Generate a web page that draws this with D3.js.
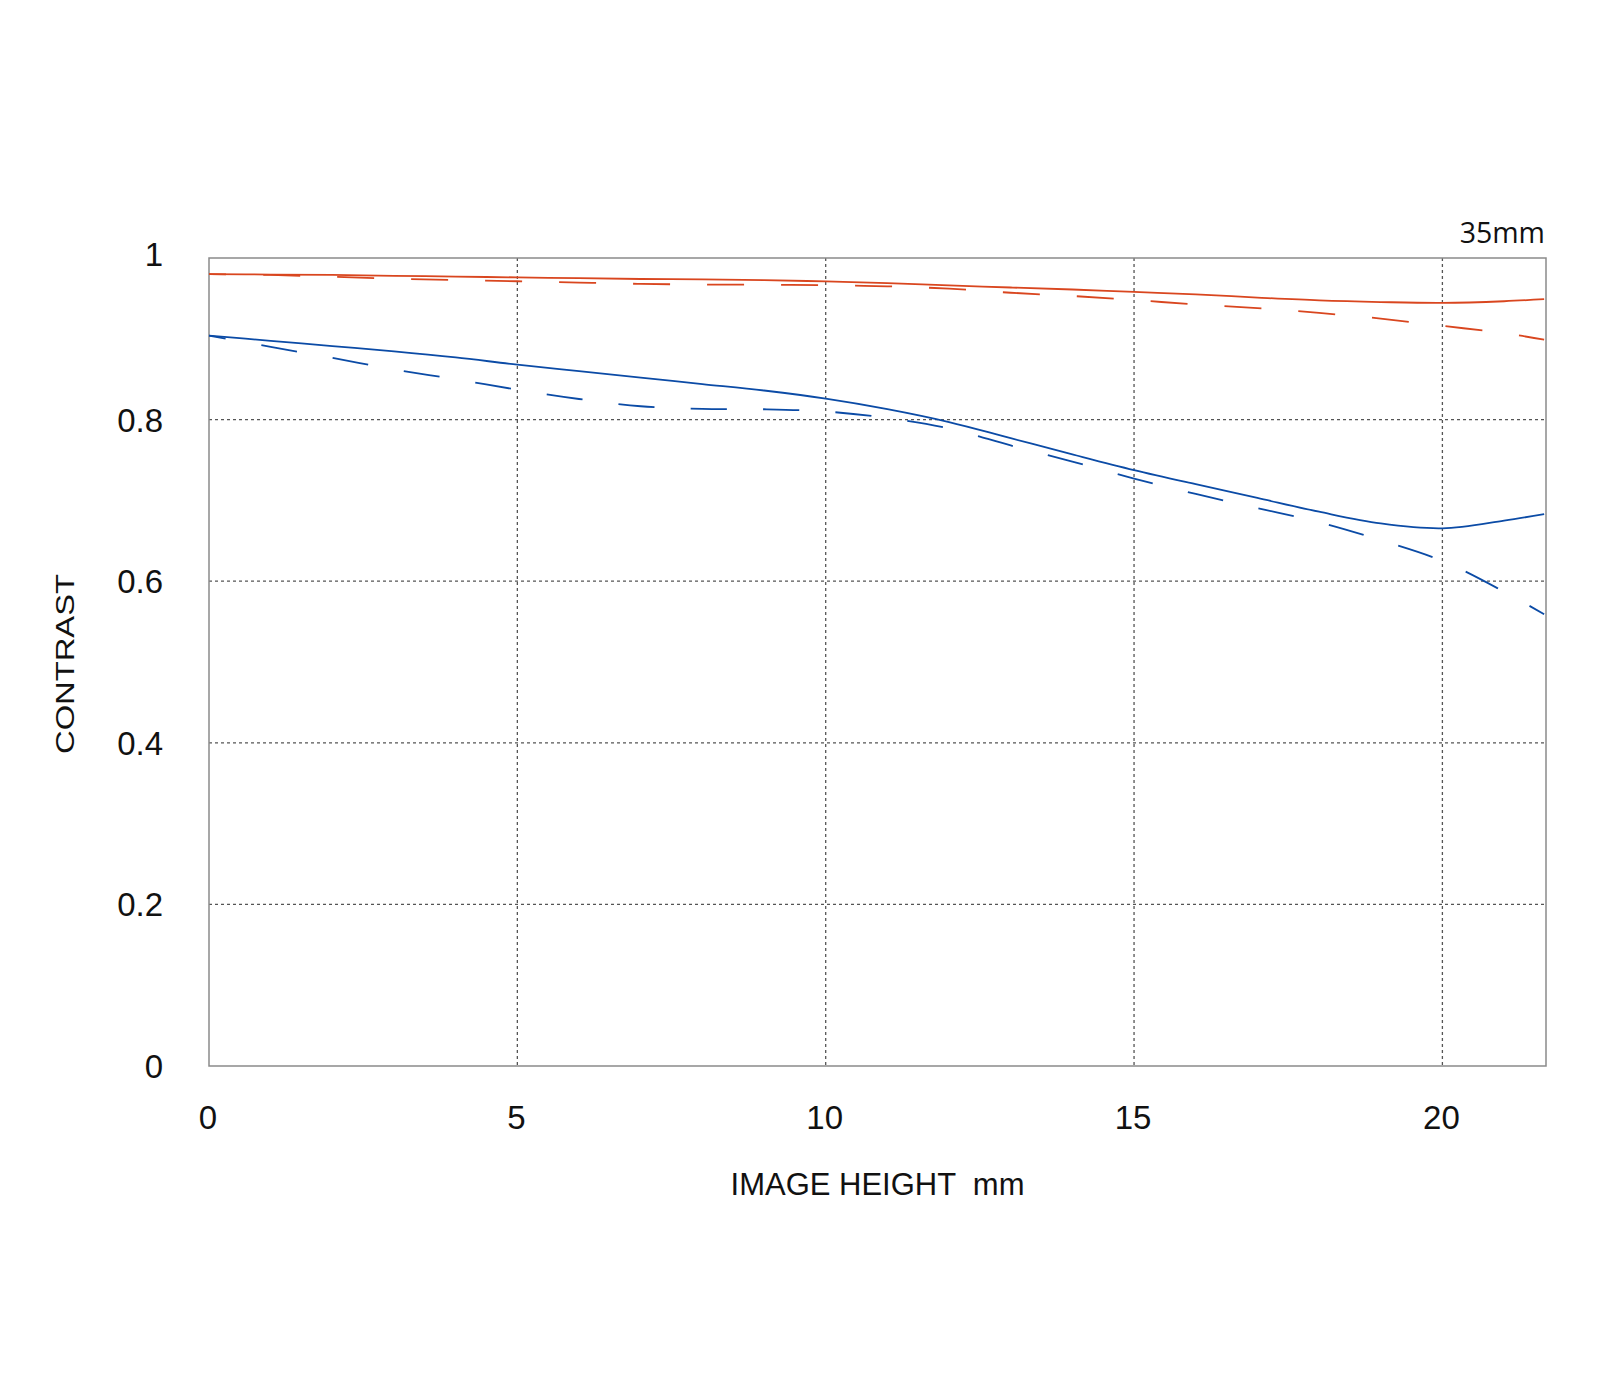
<!DOCTYPE html>
<html>
<head>
    <meta charset="utf-8">
    <title>mtf-35mm</title>
    <script src="https://cdn.jsdelivr.net/npm/d3@7"></script>
    <style type="text/css">
        body {
            margin: 0;
            background: #ffffff;
        }

        .tick-label {
            font-family: "Liberation Sans", Arial, sans-serif;
            font-size: 33px;
            fill: #111111;
        }

        .axis-title {
            font-family: "Liberation Sans", Arial, sans-serif;
            fill: #111111;
        }

        .grid {
            stroke: #555555;
            stroke-width: 1.3;
            stroke-dasharray: 3, 3;
            fill: none;
        }

        .frame {
            fill: none;
            stroke: #8a8a8a;
            stroke-width: 1.5;
        }
    </style>
</head>
<body>
<div id="chart"></div>
<script>
// image height (mm) sampled along the field
var imageHeight = [0, 1, 2, 3, 4, 5, 6, 7, 8, 9, 10, 11, 12, 13, 14, 15, 16, 17, 18, 19, 20, 21, 21.65];

// contrast values
var redSolid  = [0.980, 0.9795, 0.979, 0.978, 0.977, 0.976, 0.975, 0.974, 0.9735, 0.9725, 0.971, 0.969,
                 0.966, 0.9635, 0.961, 0.958, 0.955, 0.951, 0.9475, 0.9455, 0.9445, 0.9465, 0.949];
var redDashed = [0.980, 0.979, 0.9767, 0.9745, 0.9727, 0.9712, 0.9696, 0.968, 0.9672, 0.967, 0.9662, 0.965,
                 0.962, 0.957, 0.953, 0.948, 0.9425, 0.938, 0.932, 0.925, 0.916, 0.907, 0.899];
var blueSolid = [0.904, 0.8975, 0.891, 0.8845, 0.877, 0.868, 0.860, 0.852, 0.844, 0.836, 0.826, 0.813,
                 0.797, 0.777, 0.757, 0.7376, 0.720, 0.703, 0.686, 0.6715, 0.6655, 0.675, 0.683];
var blueDashed = [0.904, 0.890, 0.8765, 0.862, 0.850, 0.837, 0.8255, 0.8165, 0.8132, 0.8128, 0.810, 0.802,
                  0.789, 0.768, 0.748, 0.727, 0.708, 0.6905, 0.673, 0.6507, 0.625, 0.587, 0.559];

var xTicks = [0, 5, 10, 15, 20];
var yTicks = [0, 0.2, 0.4, 0.6, 0.8, 1];
var xMax = 21.68;

var width = 1600, height = 1400;
var plotLeft = 209, plotTop = 258, plotW = 1337, plotH = 808;

var x = d3.scaleLinear().domain([0, xMax]).range([plotLeft, plotLeft + plotW]);
var y = d3.scaleLinear().domain([0, 1]).range([plotTop + plotH, plotTop]);

var svg = d3.select('#chart').append('svg')
            .attr('width', width).attr('height', height);

// dotted grid
svg.append('g').selectAll('line')
   .data(xTicks.filter(function(d) { return d > 0; }))
   .enter().append('line')
   .attr('class', 'grid')
   .attr('x1', function(d) { return x(d); }).attr('x2', function(d) { return x(d); })
   .attr('y1', plotTop).attr('y2', plotTop + plotH);

svg.append('g').selectAll('line')
   .data(yTicks.filter(function(d) { return d > 0 && d < 1; }))
   .enter().append('line')
   .attr('class', 'grid')
   .attr('y1', function(d) { return y(d); }).attr('y2', function(d) { return y(d); })
   .attr('x1', plotLeft).attr('x2', plotLeft + plotW);

svg.append('rect')
   .attr('class', 'frame')
   .attr('x', plotLeft).attr('y', plotTop)
   .attr('width', plotW).attr('height', plotH);

// tick labels
svg.append('g').selectAll('text')
   .data(yTicks)
   .enter().append('text')
   .attr('class', 'tick-label')
   .attr('x', plotLeft - 46)
   .attr('y', function(d) { return y(d) + (d === 1 ? 8 : 12); })
   .attr('text-anchor', 'end')
   .text(function(d) { return d === 0 || d === 1 ? d : d3.format('.1f')(d); });

svg.append('g').selectAll('text')
   .data(xTicks)
   .enter().append('text')
   .attr('class', 'tick-label')
   .attr('x', function(d) { return x(d) - 1; })
   .attr('y', plotTop + plotH + 63)
   .attr('text-anchor', 'middle')
   .text(function(d) { return d; });

// axis titles
svg.append('text')
   .attr('class', 'axis-title')
   .attr('x', plotLeft + plotW / 2)
   .attr('y', 1195)
   .attr('text-anchor', 'middle')
   .attr('font-size', 31)
   .attr('xml:space', 'preserve')
   .text('IMAGE HEIGHT  mm');

svg.append('text')
   .attr('class', 'axis-title')
   .attr('transform', 'translate(74,' + (plotTop + plotH / 2 + 2) + ') rotate(-90)')
   .attr('text-anchor', 'middle')
   .attr('font-size', 26)
   .attr('textLength', 180)
   .attr('lengthAdjust', 'spacingAndGlyphs')
   .text('CONTRAST');

svg.append('text')
   .attr('x', plotLeft + plotW - 1)
   .attr('y', 243)
   .attr('text-anchor', 'end')
   .attr('font-family', '"Open Sans", sans-serif')
   .attr('font-size', 28.5)
   .attr('fill', '#111111')
   .text('35mm');

// MTF curves
var series = [
    {values: redSolid, color: '#d9461f', dash: null, offset: null},
    {values: redDashed, color: '#d9461f', dash: '37,37', offset: 19.8},
    {values: blueSolid, color: '#0b4ba6', dash: null, offset: null},
    {values: blueDashed, color: '#0b4ba6', dash: '36.2,36.2', offset: 19.2}
];

var line = d3.line()
             .x(function(d) { return x(d[0]); })
             .y(function(d) { return y(d[1]); })
             .curve(d3.curveCatmullRom.alpha(0.5));

svg.append('g').selectAll('path')
   .data(series)
   .enter().append('path')
   .attr('d', function(s) { return line(d3.zip(imageHeight, s.values)); })
   .attr('fill', 'none')
   .attr('stroke', function(s) { return s.color; })
   .attr('stroke-width', 1.8)
   .attr('stroke-dasharray', function(s) { return s.dash; })
   .attr('stroke-dashoffset', function(s) { return s.offset; });
</script>
</body>
</html>
